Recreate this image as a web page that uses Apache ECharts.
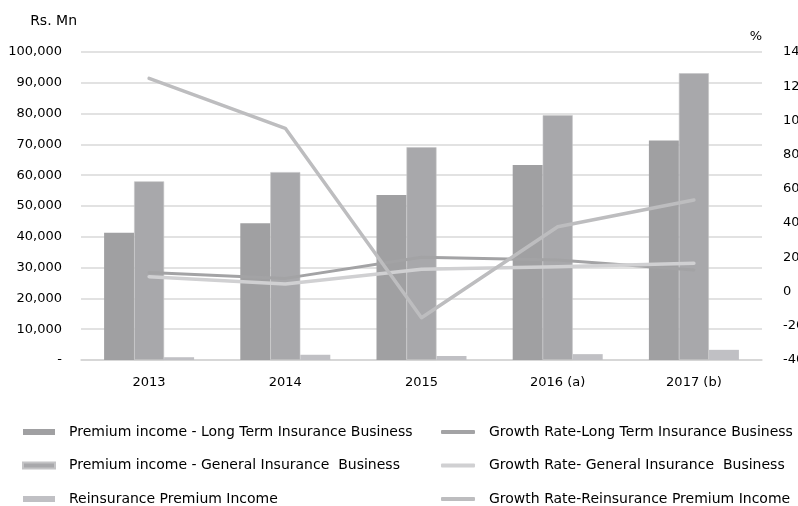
<!DOCTYPE html>
<html>
<head>
<meta charset="utf-8">
<script src="https://cdn.jsdelivr.net/npm/echarts@6/dist/echarts.min.js"></script>
<style>
  html, body { margin: 0; padding: 0; background: #fff; }
  #chart { width: 798px; height: 506px; }
</style>
</head>
<body>
<div id="chart"></div>
<script>
// Years on the category axis
var years = ['2013', '2014', '2015', '2016 (a)', '2017 (b)'];

// Premium income, Rs. Mn
var longTermPremium = [41300, 44400, 53600, 63300, 71300];
var generalPremium = [58000, 61000, 69100, 79500, 93100];
var reinsurancePremium = [900, 1700, 1300, 1900, 3300];

// Growth rates, %
var longTermGrowth = [11.2, 7.7, 20, 18.4, 12.6];
var generalGrowth = [8.7, 4.4, 13, 14.5, 16.5];
var reinsuranceGrowth = [124.6, 95.4, -15.3, 37.9, 53.5];

var FONT = 'DejaVu Sans';
var chart = echarts.init(document.getElementById('chart'), null, { renderer: 'canvas' });

function fmtThousands(v) {
  if (v === 0) return '-';
  return String(v).replace(/\B(?=(\d{3})+(?!\d))/g, ',');
}

chart.setOption({
  animation: false,
  textStyle: { fontFamily: FONT, color: '#000' },
  grid: { left: 81, right: 36, top: 52, bottom: 146, containLabel: false, outerBoundsMode: 'none' },
  legend: [
    {
      left: 22, top: 425, height: 90, orient: 'vertical', padding: 0,
      itemWidth: 32, itemHeight: 6, itemGap: 19.5, icon: 'rect',
      textStyle: { fontFamily: FONT, fontSize: 14, color: '#000', padding: [0, 0, 0, 9] },
      data: ['Premium income - Long Term Insurance Business',
             'Premium income - General Insurance  Business',
             'Reinsurance Premium Income']
    },
    {
      left: 441, top: 425, height: 90, orient: 'vertical', padding: 0,
      itemWidth: 34, itemHeight: 4, itemGap: 19.5, icon: 'roundRect',
      textStyle: { fontFamily: FONT, fontSize: 14, color: '#000', padding: [0, 0, 0, 9] },
      data: ['Growth Rate-Long Term Insurance Business',
             'Growth Rate- General Insurance  Business',
             'Growth Rate-Reinsurance Premium Income']
    }
  ],
  xAxis: {
    type: 'category',
    data: years,
    axisLine: { lineStyle: { color: '#d4d4d4', width: 1.5 } },
    axisTick: { show: false },
    axisLabel: { fontFamily: FONT, fontSize: 13, color: '#000', margin: 16 }
  },
  yAxis: [
    {
      type: 'value', min: 0, max: 100000, interval: 10000,
      name: 'Rs. Mn', nameLocation: 'end', nameGap: 24,
      nameTextStyle: { fontFamily: FONT, fontSize: 14, color: '#000', align: 'right', padding: [0, 4, 0, 0] },
      axisLine: { show: false }, axisTick: { show: false },
      axisLabel: { fontFamily: FONT, fontSize: 13, color: '#000', margin: 19, formatter: fmtThousands },
      splitLine: { lineStyle: { color: '#d9d9d9', width: 1.5 } }
    },
    {
      type: 'value', min: -40, max: 140, interval: 20, position: 'right',
      name: '%', nameLocation: 'end', nameGap: 9,
      nameTextStyle: { fontFamily: FONT, fontSize: 13, color: '#000', align: 'right' },
      axisLine: { show: false }, axisTick: { show: false },
      axisLabel: { fontFamily: FONT, fontSize: 13, color: '#000', margin: 21 },
      splitLine: { show: false }
    }
  ],
  series: [
    {
      name: 'Premium income - Long Term Insurance Business',
      type: 'bar', yAxisIndex: 0, barWidth: 30, barGap: '0%',
      itemStyle: { color: '#a0a0a2' },
      data: longTermPremium
    },
    {
      name: 'Premium income - General Insurance  Business',
      type: 'bar', yAxisIndex: 0, barWidth: 30, barGap: '0%',
      itemStyle: { color: '#a8a8ab', borderColor: '#c4c4c6', borderWidth: 0.6 },
      data: generalPremium
    },
    {
      name: 'Reinsurance Premium Income',
      type: 'bar', yAxisIndex: 0, barWidth: 30, barGap: '0%',
      itemStyle: { color: '#c0c0c4' },
      data: reinsurancePremium
    },
    {
      name: 'Growth Rate-Long Term Insurance Business',
      type: 'line', yAxisIndex: 1, showSymbol: false, symbol: 'none',
      itemStyle: { color: '#a3a3a5' },
      lineStyle: { color: '#a3a3a5', width: 3, cap: 'round', join: 'round' },
      data: longTermGrowth
    },
    {
      name: 'Growth Rate- General Insurance  Business',
      type: 'line', yAxisIndex: 1, showSymbol: false, symbol: 'none',
      itemStyle: { color: '#d0d0d2' },
      lineStyle: { color: '#d0d0d2', width: 3.5, cap: 'round', join: 'round' },
      data: generalGrowth
    },
    {
      name: 'Growth Rate-Reinsurance Premium Income',
      type: 'line', yAxisIndex: 1, showSymbol: false, symbol: 'none',
      itemStyle: { color: '#bdbdbf' },
      lineStyle: { color: '#bdbdbf', width: 3.5, cap: 'round', join: 'round' },
      data: reinsuranceGrowth
    }
  ]
});
</script>
</body>
</html>
